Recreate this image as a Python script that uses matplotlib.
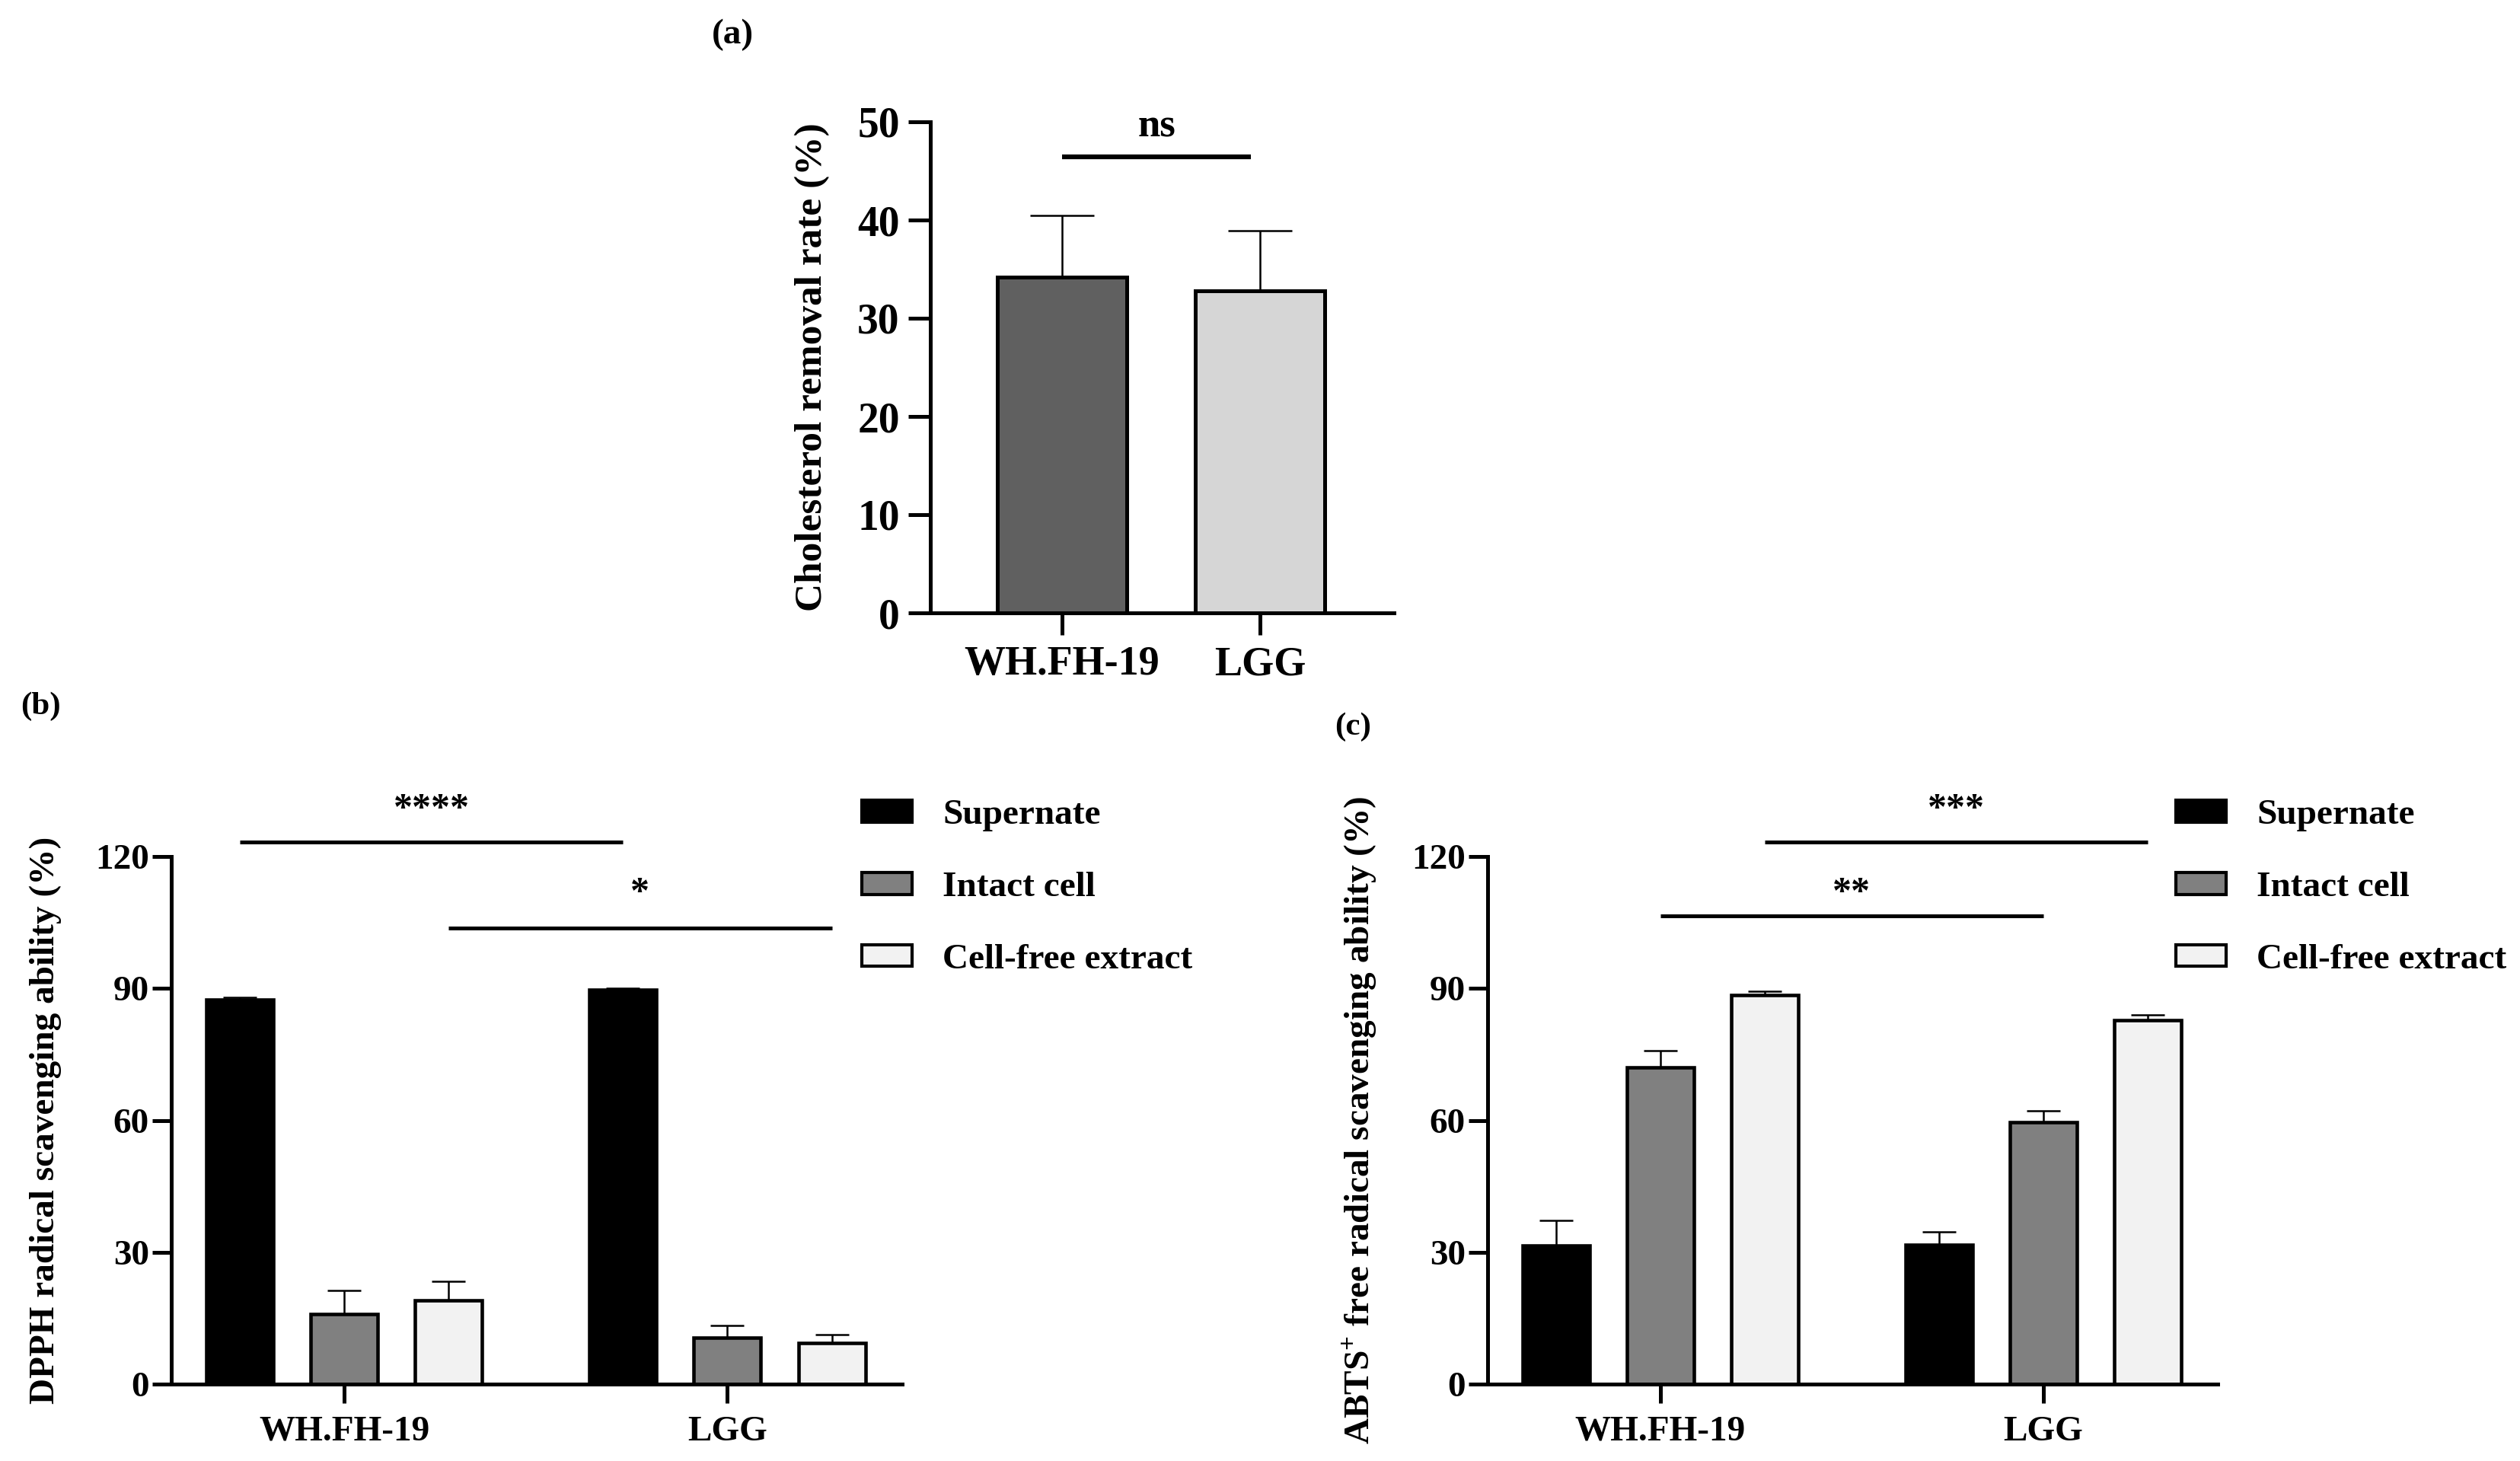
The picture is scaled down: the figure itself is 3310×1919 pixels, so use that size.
import matplotlib
matplotlib.use("Agg")
import matplotlib.pyplot as plt
from matplotlib.patches import Patch
import numpy as np

plt.rcParams['font.family'] = ['Liberation Serif', 'DejaVu Serif']
plt.rcParams['font.weight'] = 'bold'
plt.rcParams['mathtext.fontset'] = 'custom'
plt.rcParams['mathtext.rm'] = 'Liberation Serif:bold'
plt.rcParams['mathtext.bf'] = 'Liberation Serif:bold'
plt.rcParams['axes.linewidth'] = 3.6

# ---------------- data ----------------
strains = ["WH.FH-19", "LGG"]

chol_mean = [34.2, 32.8]
chol_err = [6.3, 6.1]
chol_colors = ["#606060", "#d6d6d6"]

fractions = ["Supernate", "Intact cell", "Cell-free extract"]
frac_colors = ["#000000", "#808080", "#f2f2f2"]

dpph_supernate = [87.5, 89.7]
dpph_intact = [16.0, 10.5]
dpph_cellfree = [19.0, 9.3]
dpph_supernate_err = [0.5, 0.4]
dpph_intact_err = [5.3, 2.8]
dpph_cellfree_err = [4.4, 2.0]

abts_supernate = [31.5, 31.7]
abts_intact = [72.0, 59.6]
abts_cellfree = [88.5, 82.8]
abts_supernate_err = [5.8, 2.9]
abts_intact_err = [3.8, 2.6]
abts_cellfree_err = [0.9, 1.2]

W, H = 3310, 1919
fig = plt.figure(figsize=(W / 100, H / 100), dpi=100)


def fpos(l, r, b, t):
    return [l / W, 1 - b / H, (r - l) / W, (b - t) / H]


# ---------------- panel (a) ----------------
axa = fig.add_axes(fpos(1222, 1831, 805, 160))
xa = np.arange(len(strains))
axa.bar(xa, chol_mean, width=0.654, color=chol_colors, edgecolor='black',
        linewidth=3.6, zorder=2)
axa.errorbar(xa, chol_mean, yerr=[np.zeros(2), chol_err], fmt='none',
             ecolor='black', elinewidth=1.8, capsize=30, capthick=1.8, zorder=1)
axa.set_xlim(-0.665, 1.677)
axa.set_ylim(0, 50)
axa.set_yticks([0, 10, 20, 30, 40, 50])
axa.set_xticks(xa)
axa.set_xticklabels(strains)
axa.spines['top'].set_visible(False)
axa.spines['right'].set_visible(False)
axa.tick_params(axis='both', length=21, width=3.6, labelsize=40, pad=8)
axa.tick_params(axis='x', labelsize=39, pad=10)
axa.set_ylabel("Cholesterol removal rate (%)", fontsize=37, fontweight='bold')
axa.yaxis.set_label_coords(-0.2545, 0.5)
axa.yaxis.label.set_va('center')
axa.plot([0, 0.955], [46.4, 46.4], color='black', lw=4.5, clip_on=False,
         solid_capstyle='butt')
axa.text(0.48, 49.5, "ns", ha='center', va='center', fontsize=38,
         fontweight='bold', clip_on=False)
fig.text(962 / W, 1 - 46 / H, "(a)", ha='center', va='center', fontsize=34,
         fontweight='bold')


# ---------------- panels (b) and (c) ----------------
def grouped(ax, sup, intact, cf, sup_e, int_e, cf_e, ylabel, sigs, label_x):
    x = np.arange(len(strains))
    off = 0.2724
    bw = 0.175
    series = [(sup, sup_e), (intact, int_e), (cf, cf_e)]
    for i, (vals, errs) in enumerate(series):
        xs = x + (i - 1) * off
        ax.bar(xs, vals, width=bw, color=frac_colors[i], edgecolor='black',
               linewidth=3.3, zorder=2, label=fractions[i])
        ax.errorbar(xs, vals, yerr=[np.zeros(len(vals)), errs], fmt='none',
                    ecolor='black', elinewidth=1.8, capsize=16, capthick=1.8,
                    zorder=1)
    ax.set_xlim(-0.451, 1.456)
    ax.set_ylim(0, 120)
    ax.set_yticks([0, 30, 60, 90, 120])
    ax.set_xticks(x)
    ax.set_xticklabels(strains)
    ax.spines['top'].set_visible(False)
    ax.spines['right'].set_visible(False)
    ax.tick_params(axis='both', length=18, width=3.6, labelsize=34, pad=3)
    ax.tick_params(axis='x', pad=12)
    ax.set_ylabel(ylabel, fontsize=34, fontweight='bold')
    ax.yaxis.set_label_coords(label_x, 0.5)
    ax.yaxis.label.set_va('center')
    for (i0, i1, y, ty, txt) in sigs:
        x0 = 0 + (i0 - 1) * off
        x1 = 1 + (i1 - 1) * off
        ax.plot([x0, x1], [y, y], color='black', lw=3.6, clip_on=False,
                solid_capstyle='butt')
        ax.text((x0 + x1) / 2, ty, txt, ha='center', va='center', fontsize=36,
                fontweight='bold', clip_on=False)
    handles = [Patch(facecolor=frac_colors[i], edgecolor='black', linewidth=3.0)
               for i in range(3)]
    return handles


legend_kw = dict(loc='upper left', bbox_transform=fig.transFigure,
                 frameon=False, fontsize=34, handlelength=1.4,
                 handleheight=0.56, handletextpad=0.85, labelspacing=1.12,
                 borderpad=0, borderaxespad=0)

axb = fig.add_axes(fpos(225, 1185, 1818, 1125))
hb = grouped(axb, dpph_supernate, dpph_intact, dpph_cellfree,
             dpph_supernate_err, dpph_intact_err, dpph_cellfree_err,
             "DPPH radical scavenging ability (%)",
             [(0, 0, 123.3, 130.5, "****"), (2, 2, 103.8, 111.5, "*")], -0.172)
axb.legend(hb, fractions, bbox_to_anchor=(1132 / W, 1 - 1050 / H), **legend_kw)
fig.text(53 / W, 1 - 928 / H, "(b)", ha='center', va='center', fontsize=31,
         fontweight='bold')

axc = fig.add_axes(fpos(1954, 2913, 1818, 1125))
hc = grouped(axc, abts_supernate, abts_intact, abts_cellfree,
             abts_supernate_err, abts_intact_err, abts_cellfree_err,
             r"ABTS$^{+}$ free radical scavenging ability (%)",
             [(2, 2, 123.3, 130.5, "***"), (1, 1, 106.5, 111.5, "**")], -0.176)
axc.legend(hc, fractions, bbox_to_anchor=(2858 / W, 1 - 1050 / H), **legend_kw)
fig.text(1777 / W, 1 - 955 / H, "(c)", ha='center', va='center', fontsize=31,
         fontweight='bold')

fig.savefig("out.png", dpi=100, facecolor='white')
